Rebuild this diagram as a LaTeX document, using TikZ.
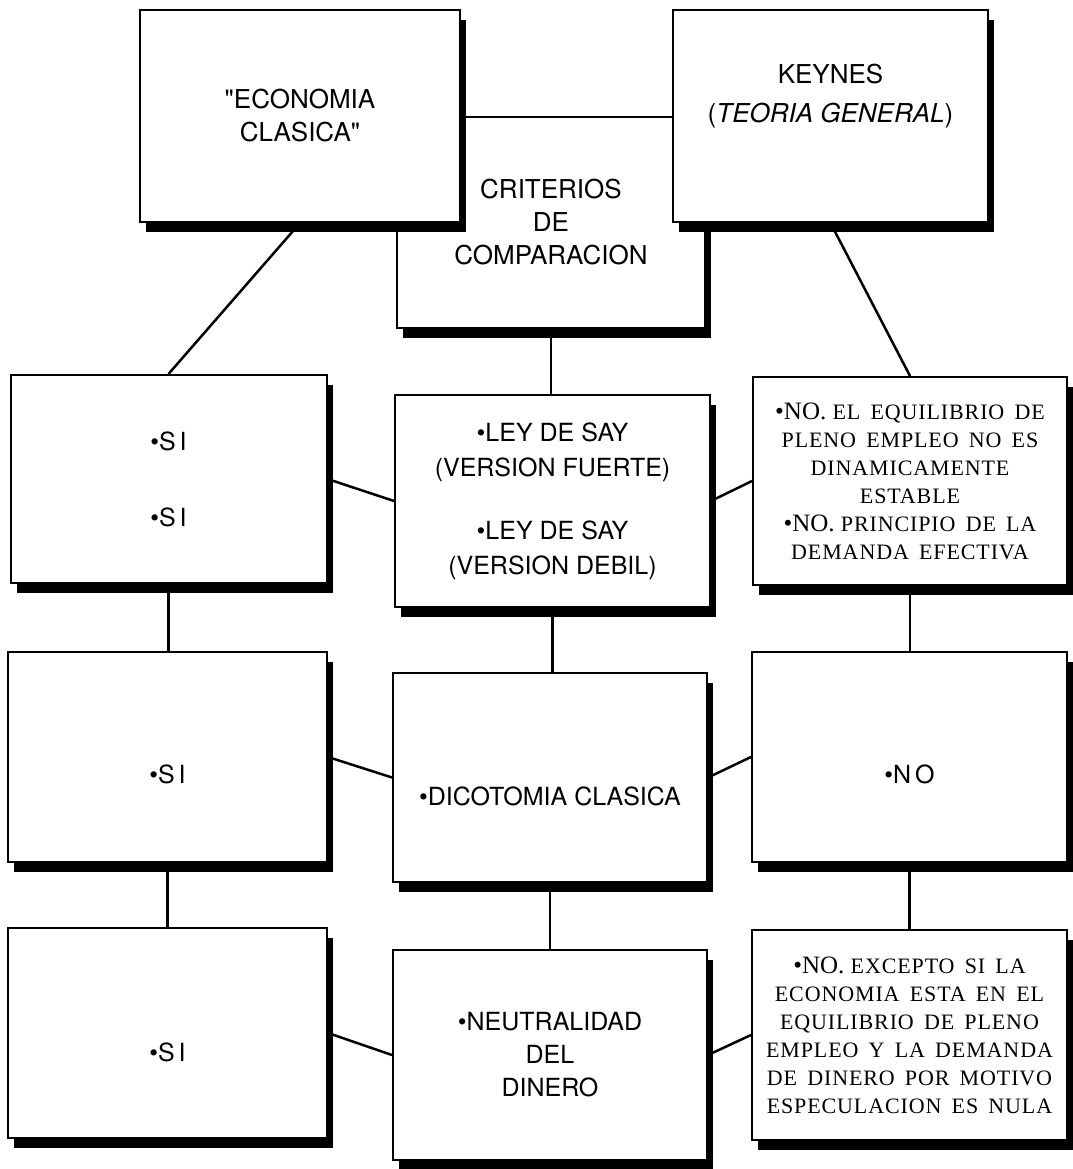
\documentclass[tikz,border=0pt]{standalone}
\usepackage{fontspec}
\setmainfont{Liberation Serif}
\setsansfont{TeX Gyre Heros}
\newfontfamily\scserif[LetterSpace=4.0,WordSpace=1.6]{Liberation Serif}
\usetikzlibrary{shapes,shadows}
\tikzstyle{line} = [draw, line width=2.5pt]
\tikzstyle{box} = [rectangle, draw, line width=2pt, fill=white, inner sep=0pt, minimum width=316pt, minimum height=210pt, align=center, drop shadow={shadow xshift=6pt, shadow yshift=-10pt, fill=black, opacity=1}, font=\sffamily\fontsize{25}{34}\selectfont]
\tikzstyle{big} = [font=\sffamily\fontsize{26}{33}\selectfont]
\tikzstyle{note} = [font=\rmfamily\fontsize{25}{28}\selectfont]
\newcommand{\rest}[1]{{\scserif\fontsize{22}{28}\selectfont #1}}
\newcommand{\si}{\textbullet S\kern4pt I}
\pgfdeclarelayer{background}
\pgfsetlayers{background,main}

\begin{document}
\begin{tikzpicture}[x=1pt, y=-1pt]
	\useasboundingbox (0,0) rectangle (1072,1169);

	% top row
	\node [box, big, minimum width=308pt, minimum height=211pt] (crit) at (551,222.5) {CRITERIOS\\DE\\COMPARACION};
	\node [box, big, minimum width=320pt, minimum height=212pt] (eco) at (300,116) {\textquotedbl ECONOMIA\\CLASICA\textquotedbl};
	\node [box, big, minimum width=315pt, minimum height=212pt] (key) at (830.5,116) {KEYNES\\[6pt](\textit{TEORIA GENERAL})\\[12pt]~};

	% ley de say
	\node [box, minimum height=208pt] (si1) at (168.5,479) {\si\\[42pt]\si};
	\node [box, minimum width=315pt, minimum height=212pt, font=\sffamily\fontsize{25}{35}\selectfont] (say) at (552.5,501) {\textbullet LEY DE SAY\\(VERSION FUERTE)\\[28pt]\textbullet LEY DE SAY\\(VERSION DEBIL)};
	\node [box, note, minimum width=314pt, minimum height=208pt] (no1) at (910,481) {\textbullet NO. \rest{EL EQUILIBRIO DE}\\\rest{PLENO EMPLEO NO ES}\\\rest{DINAMICAMENTE}\\\rest{ESTABLE}\\\textbullet NO. \rest{PRINCIPIO DE LA}\\\rest{DEMANDA EFECTIVA}};

	% dicotomia
	\node [box, minimum width=319pt] (si2) at (167.5,757) {~\\[20pt]\si};
	\node [box, minimum width=314pt, minimum height=209pt] (dic) at (550,777.5) {~\\[23pt]\textbullet DICOTOMIA CLASICA};
	\node [box, minimum width=315pt] (no2) at (909.5,757) {~\\[20pt]\textbullet N\kern4pt O};

	% neutralidad
	\node [box, minimum width=319pt] (si3) at (167.5,1033) {~\\[24pt]\si};
	\node [box, minimum width=314pt] (neu) at (550,1055) {\textbullet NEUTRALIDAD\\[-1pt]DEL\\[-1pt]DINERO};
	\node [box, note, minimum width=315pt] (no3) at (909.5,1035) {\textbullet NO. \rest{EXCEPTO SI LA}\\\rest{ECONOMIA ESTA EN EL}\\\rest{EQUILIBRIO DE PLENO}\\\rest{EMPLEO Y LA DEMANDA}\\\rest{DE DINERO POR MOTIVO}\\\rest{ESPECULACION ES NULA}};

	\begin{pgfonlayer}{background}
	\path [line] (eco.south) -- (si1.north);
	\path [line] (key.south) -- (no1.north);
	\path [line] (crit.south) -- (crit.south |- say.north);

	\path [line] (si1.east) -- (say.west);
	\path [line] (say.east) -- (no1.west);
	\path [line] (si1.south) -- (si1.south |- si2.north);
	\path [line] (say.south) -- (say.south |- dic.north);
	\path [line] (no1.south) -- (no1.south |- no2.north);

	\path [line] (si2.east) -- (dic.west);
	\path [line] (dic.east) -- (no2.west);
	\path [line] (si2.south) -- (si2.south |- si3.north);
	\path [line] (dic.south) -- (dic.south |- neu.north);
	\path [line] (no2.south) -- (no2.south |- no3.north);

	\path [line] (si3.east) -- (neu.west);
	\path [line] (neu.east) -- (no3.west);
	\end{pgfonlayer}
\end{tikzpicture}
\end{document}
